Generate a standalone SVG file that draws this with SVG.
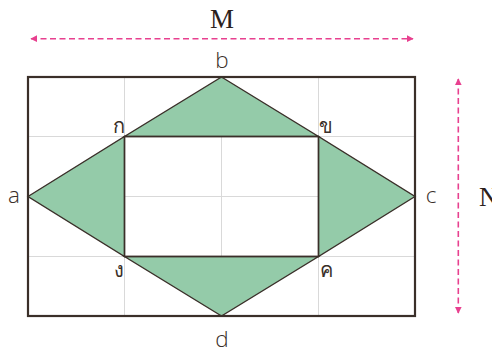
<svg xmlns="http://www.w3.org/2000/svg" width="492" height="354" viewBox="0 0 492 354">
<style>
.grid{stroke:#d9d9d9;stroke-width:1;fill:none}
.frame{stroke:#3a2f29;stroke-width:2.2;fill:none}
.edge{stroke:#3a2f29;stroke-width:1.4;fill:none}
.tri{fill:#94cba9;stroke:#3a2f29;stroke-width:1.4;stroke-linejoin:miter}
.dim{stroke:#e8408f;stroke-width:1.6;stroke-dasharray:6 3.5;fill:none}
.lbl{font-family:"Open Sans","Noto Sans","DejaVu Sans",sans-serif;font-weight:300;font-size:22.5px;fill:#3a2f29;text-anchor:middle}
.th{font-family:"Noto Sans","DejaVu Sans",sans-serif;font-weight:300;font-size:20px;fill:#3a2f29;text-anchor:middle}
.big{font-family:"Liberation Serif","Times New Roman",serif;font-size:27px;fill:#2b211c}
</style>
<defs>
<marker id="ah" viewBox="0 0 10 10" refX="9" refY="5" markerWidth="4.2" markerHeight="4.2" orient="auto-start-reverse" markerUnits="strokeWidth">
<path d="M0,0 L10,5 L0,10 z" fill="#e8408f"/>
</marker>
</defs>
<g id="grid">
<line class="grid" x1="124.5" y1="77" x2="124.5" y2="316"/>
<line class="grid" x1="221.5" y1="77" x2="221.5" y2="316"/>
<line class="grid" x1="318.5" y1="77" x2="318.5" y2="316"/>
<line class="grid" x1="28" y1="136.5" x2="415" y2="136.5"/>
<line class="grid" x1="28" y1="196.5" x2="415" y2="196.5"/>
<line class="grid" x1="28" y1="256.5" x2="415" y2="256.5"/>
</g>
<g id="triangles">
<polygon class="tri" points="221.5,77 318.5,136.5 124.5,136.5"/>
<polygon class="tri" points="415,196.5 318.5,256.5 318.5,136.5"/>
<polygon class="tri" points="221.5,316 124.5,256.5 318.5,256.5"/>
<polygon class="tri" points="28,196.5 124.5,136.5 124.5,256.5"/>
</g>
<g id="inner">
<rect class="edge" x="124.5" y="136.5" width="194" height="120"/>
</g>
<g id="frame">
<rect class="frame" x="28" y="77" width="387" height="239"/>
</g>
<g id="connectors">
<line class="dim" x1="31" y1="38.7" x2="413" y2="38.7" marker-start="url(#ah)" marker-end="url(#ah)"/>
<line class="dim" x1="458.3" y1="79" x2="458.3" y2="313" marker-start="url(#ah)" marker-end="url(#ah)"/>
</g>
<g id="labels">
<text class="big" x="222" y="27.7" text-anchor="middle">M</text>
<text class="big" x="479" y="205.5">N</text>
<text class="lbl" x="222" y="68.3">b</text>
<text class="lbl" x="14" y="202.5">a</text>
<text class="lbl" x="431" y="202.5">c</text>
<text class="lbl" x="222" y="346.5">d</text>
<text class="th" x="118.5" y="133">ก</text>
<text class="th" x="326" y="133">ข</text>
<text class="th" x="119" y="276.5">ง</text>
<text class="th" x="326.5" y="276.5">ค</text>
</g>
</svg>
